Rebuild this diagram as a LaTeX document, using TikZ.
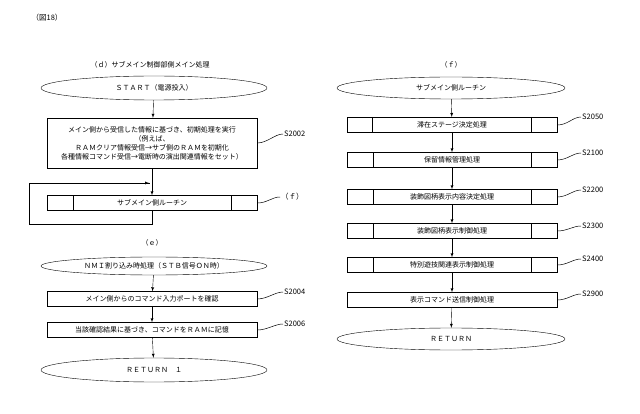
\documentclass[tikz,border=0pt]{standalone}
\usepackage{fontspec}
\setmainfont{Noto Sans CJK JP}
\usetikzlibrary{shapes.geometric}
\begin{document}
\begin{tikzpicture}[x=1pt, y=-1pt, font=\fontsize{7}{9}\selectfont, >=latex,
    term/.style={draw, ellipse, inner sep=0pt},
    proc/.style={draw, rectangle, inner sep=0pt, align=center},
    stepnum/.style={anchor=west, inner sep=1pt, font=\fontsize{7.5}{9}\selectfont},
    sq/.style={line width=0.5pt}]
    \useasboundingbox (0,0) rectangle (640,414);

    \path (47, 18)   node[font=\fontsize{7.5}{9}\selectfont] (fig) {（図18）};
    \path (150, 65)  node (td) {（ｄ）サブメイン制御部側メイン処理};
    \path (154, 88)  node[term, minimum width=226pt, minimum height=24pt] (start) {ＳＴＡＲＴ（電源投入）};
    \path (152, 143) node[proc, minimum width=210pt, minimum height=50pt] (init) {メイン側から受信した情報に基づき、初期処理を実行\\（例えば、\\ＲＡＭクリア情報受信→サブ側のＲＡＭを初期化\\各種情報コマンド受信→電断時の演出関連情報をセット）};
    \path (152, 203) node[proc, minimum width=210pt, minimum height=15pt] (sub) {サブメイン側ルーチン};
    \path (283, 134) node[stepnum] (s2002) {S2002};
    \path (280, 197) node[stepnum] (f1) {（ｆ）};
    \coordinate (lpa) at (152, 224);
    \coordinate (lpb) at (29, 224);
    \coordinate (lpc) at (29, 183);
    \coordinate (lpd) at (152, 183);

    \path (152, 243) node (te) {（ｅ）};
    \path (154, 266) node[term, minimum width=226pt, minimum height=18pt] (nmi) {ＮＭＩ割り込み時処理（ＳＴＢ信号ＯＮ時）};
    \path (152, 299) node[proc, minimum width=210pt, minimum height=15pt] (port) {メイン側からのコマンド入力ポートを確認};
    \path (152, 330) node[proc, minimum width=210pt, minimum height=15pt] (store) {当該確認結果に基づき、コマンドをＲＡＭに記憶};
    \path (154, 370) node[term, minimum width=226pt, minimum height=24pt] (ret1) {ＲＥＴＵＲＮ　１};
    \path (283, 292) node[stepnum] (s2004) {S2004};
    \path (283, 324) node[stepnum] (s2006) {S2006};

    \path (451, 65)  node (tf) {（ｆ）};
    \path (451, 88)  node[term, minimum width=228pt, minimum height=22pt] (subr) {サブメイン側ルーチン};
    \path (452, 125) node[proc, minimum width=210pt, minimum height=15pt, line width=1pt] (p2050) {滞在ステージ決定処理};
    \path (452, 160) node[proc, minimum width=210pt, minimum height=15pt] (p2100) {保留情報管理処理};
    \path (452, 197) node[proc, minimum width=210pt, minimum height=15pt] (p2200) {装飾図柄表示内容決定処理};
    \path (452, 231) node[proc, minimum width=210pt, minimum height=15pt] (p2300) {装飾図柄表示制御処理};
    \path (452, 265) node[proc, minimum width=210pt, minimum height=15pt] (p2400) {特別遊技関連表示制御処理};
    \path (452, 300) node[proc, minimum width=210pt, minimum height=15pt] (p2900) {表示コマンド送信制御処理};
    \path (451, 339) node[term, minimum width=228pt, minimum height=22pt] (ret2) {ＲＥＴＵＲＮ};
    \path (581, 117) node[stepnum] (s2050) {S2050};
    \path (581, 153) node[stepnum] (s2100) {S2100};
    \path (581, 190) node[stepnum] (s2200) {S2200};
    \path (581, 226) node[stepnum] (s2300) {S2300};
    \path (581, 259) node[stepnum] (s2400) {S2400};
    \path (581, 294) node[stepnum] (s2900) {S2900};

    % inner lines of subroutine boxes
    \foreach \n in {sub, p2050, p2100, p2200, p2300, p2400} {
        \draw ([xshift=26pt]\n.north west) -- ([xshift=26pt]\n.south west);
        \draw ([xshift=-26pt]\n.north east) -- ([xshift=-26pt]\n.south east);
    }

    \draw[->] (start) -- (init);
    \draw[->] (init) -- (sub);
    \draw (sub) -- (lpa) -- (lpb) -- (lpc) -- ([xshift=-2pt]lpd);
    \draw[->] (lpc) -- ([xshift=-3pt]lpd);

    \draw[->] (nmi) -- (port);
    \draw[->] (port) -- (store);
    \draw[->] (store) -- (ret1);

    \draw[->] (subr) -- (p2050);
    \draw[->] (p2050) -- (p2100);
    \draw[->] (p2100) -- (p2200);
    \draw[->] (p2200) -- (p2300);
    \draw[->] (p2300) -- (p2400);
    \draw[->] (p2400) -- (p2900);
    \draw[->] (p2900) -- (ret2);

    % step label leaders
    \foreach \b/\l in {init/s2002, sub/f1, port/s2004, store/s2006, p2050/s2050, p2100/s2100, p2200/s2200, p2300/s2300, p2400/s2400, p2900/s2900}
        \draw[sq] (\b.east) .. controls ([xshift=10pt]\b.east) and ([xshift=-8pt]\l.west) .. (\l.west);
\end{tikzpicture}
\end{document}
